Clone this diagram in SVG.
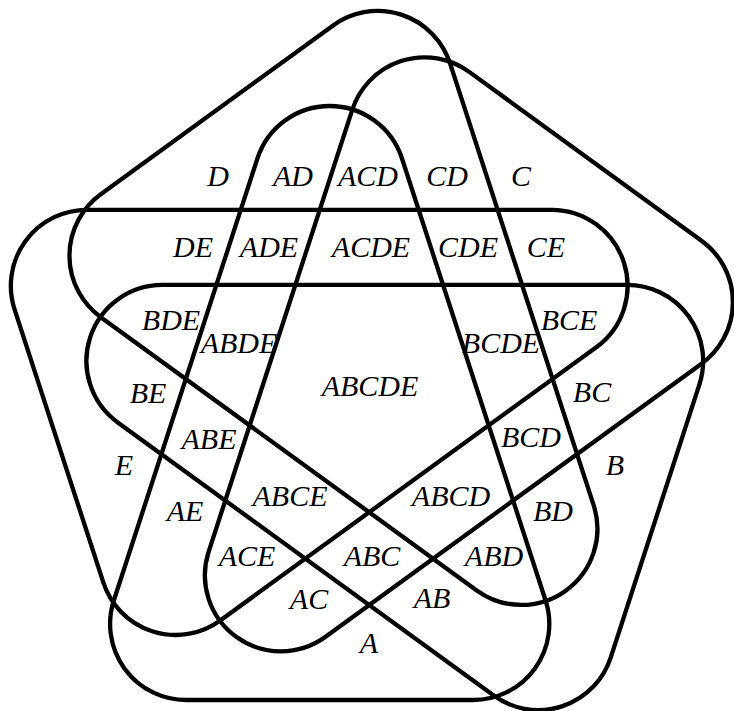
<svg xmlns="http://www.w3.org/2000/svg" xmlns:xlink="http://www.w3.org/1999/xlink" width="734" height="711" viewBox="0 0 734 711">
  <style>
    .set { fill: none; stroke: #000; stroke-width: 4.3; stroke-linejoin: round; }
    .lbl { font-family: "Liberation Serif", "Times New Roman", serif; font-style: italic; font-size: 30px; fill: #000; text-anchor: middle; }
  </style>
  <defs>
    <path id="tri" d="M 257.42 158.52 A 76 76 0 0 1 401.98 158.52 L 545.58 600.52 A 76 76 0 0 1 473.3 700 L 186.1 700 A 76 76 0 0 1 113.82 600.52 Z"/>
  </defs>
  <rect width="734" height="711" fill="#fff"/>
  <g id="set-A"><use class="set" href="#tri" xlink:href="#tri"/></g>
  <g id="set-E"><use class="set" href="#tri" xlink:href="#tri" transform="rotate(72 369.2 386.6)"/></g>
  <g id="set-D"><use class="set" href="#tri" xlink:href="#tri" transform="rotate(144 369.2 386.6)"/></g>
  <g id="set-C"><use class="set" href="#tri" xlink:href="#tri" transform="rotate(216 369.2 386.6)"/></g>
  <g id="set-B"><use class="set" href="#tri" xlink:href="#tri" transform="rotate(288 369.2 386.6)"/></g>
  <g id="labels">
    <text class="lbl" x="218" y="186">D</text>
    <text class="lbl" x="293" y="186">AD</text>
    <text class="lbl" x="368" y="186">ACD</text>
    <text class="lbl" x="447" y="186">CD</text>
    <text class="lbl" x="521" y="186">C</text>
    <text class="lbl" x="193" y="257">DE</text>
    <text class="lbl" x="269" y="257">ADE</text>
    <text class="lbl" x="371" y="257">ACDE</text>
    <text class="lbl" x="468" y="257">CDE</text>
    <text class="lbl" x="546" y="257">CE</text>
    <text class="lbl" x="171" y="330">BDE</text>
    <text class="lbl" x="239" y="353">ABDE</text>
    <text class="lbl" x="569" y="330">BCE</text>
    <text class="lbl" x="501" y="353">BCDE</text>
    <text class="lbl" x="370" y="396">ABCDE</text>
    <text class="lbl" x="148" y="403">BE</text>
    <text class="lbl" x="592" y="402">BC</text>
    <text class="lbl" x="209" y="449">ABE</text>
    <text class="lbl" x="531" y="447">BCD</text>
    <text class="lbl" x="124" y="475">E</text>
    <text class="lbl" x="615" y="475">B</text>
    <text class="lbl" x="185" y="521">AE</text>
    <text class="lbl" x="290" y="506">ABCE</text>
    <text class="lbl" x="451" y="506">ABCD</text>
    <text class="lbl" x="553" y="521">BD</text>
    <text class="lbl" x="247" y="566">ACE</text>
    <text class="lbl" x="372" y="566">ABC</text>
    <text class="lbl" x="494" y="566">ABD</text>
    <text class="lbl" x="309" y="609">AC</text>
    <text class="lbl" x="432" y="608">AB</text>
    <text class="lbl" x="369" y="653">A</text>
  </g>
</svg>
